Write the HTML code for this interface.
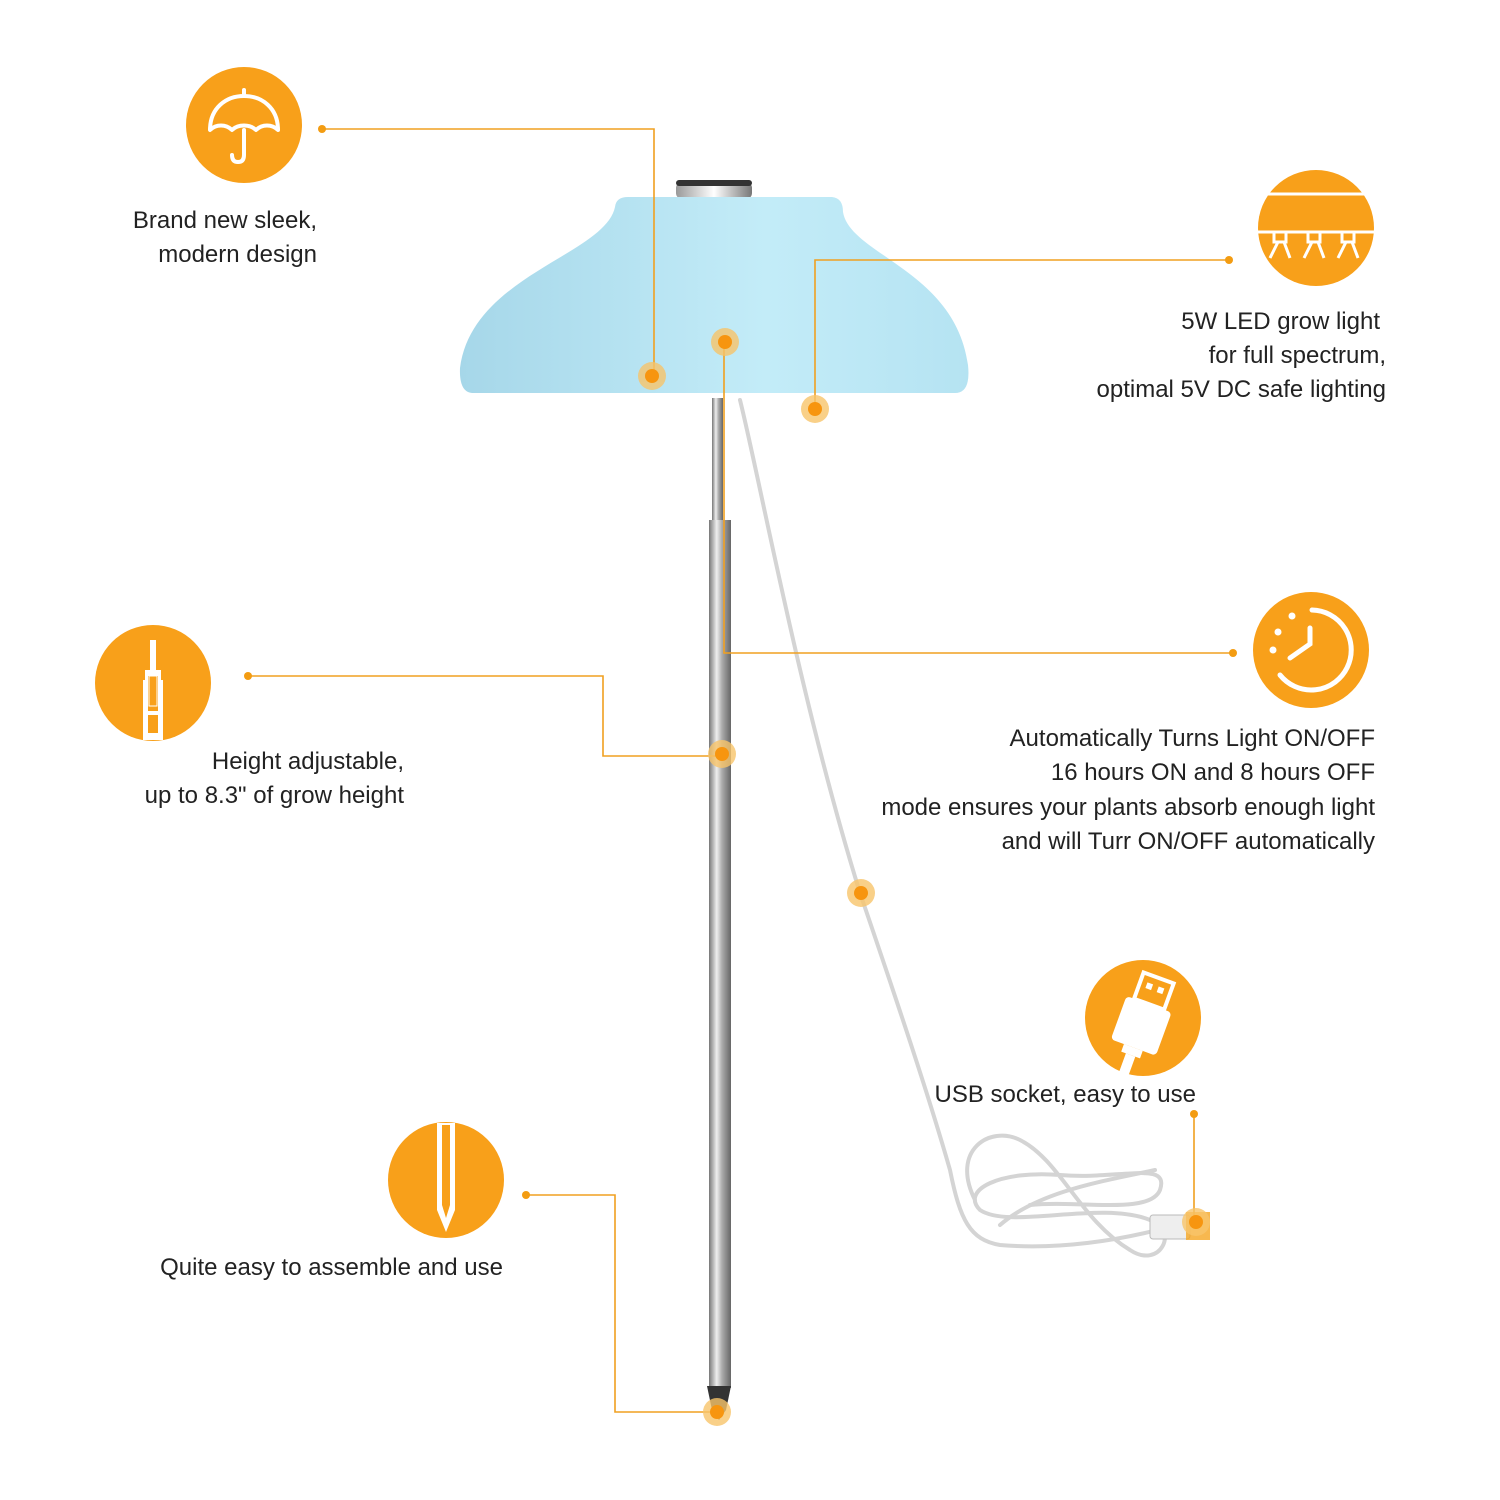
<!DOCTYPE html>
<html><head><meta charset="utf-8"><style>
html,body{margin:0;padding:0;background:#fff;}
svg{display:block;}
text{font-family:"Liberation Sans",Arial,sans-serif;font-size:24px;fill:#222;}
</style></head><body>
<svg width="1500" height="1500" viewBox="0 0 1500 1500" xmlns="http://www.w3.org/2000/svg">
<defs>
<linearGradient id="shade" x1="0" x2="1" y1="0" y2="0">
<stop offset="0" stop-color="#a6d7e9"/><stop offset="0.6" stop-color="#c3ecf8"/><stop offset="1" stop-color="#b5e3f2"/>
</linearGradient>
<linearGradient id="pole" x1="0" x2="1">
<stop offset="0" stop-color="#777"/><stop offset="0.35" stop-color="#eee"/><stop offset="0.6" stop-color="#aaa"/><stop offset="1" stop-color="#666"/>
</linearGradient>
<linearGradient id="cap" x1="0" x2="1">
<stop offset="0" stop-color="#999"/><stop offset="0.5" stop-color="#fff"/><stop offset="1" stop-color="#777"/>
</linearGradient>
</defs>

<g fill="none" stroke="#d4d4d4" stroke-width="4" stroke-linecap="round">
<path d="M740,400 C760,480 800,700 860,893 C900,1010 930,1100 950,1170 C960,1220 970,1240 1000,1245 C1060,1250 1120,1240 1165,1228"/>
<path d="M975,1200 C950,1150 990,1125 1020,1140 C1060,1160 1080,1220 1130,1250 C1160,1270 1180,1230 1150,1220 C1100,1200 1010,1230 980,1210 C960,1190 1000,1170 1060,1175 C1120,1180 1170,1160 1160,1190 C1150,1215 1080,1200 1030,1205"/>
<path d="M1000,1225 C1040,1190 1110,1180 1155,1170"/>
</g>
<g stroke="#bbb" stroke-width="1" fill="#eee"><rect x="1150" y="1215" width="40" height="24" rx="3"/></g>
<rect x="1186" y="1212" width="24" height="28" fill="#f5a623" opacity="0.8"/>

<rect x="712" y="398" width="11" height="125" fill="url(#pole)"/>
<rect x="709" y="520" width="22" height="868" fill="url(#pole)"/>
<path d="M707,1386 L731,1386 L726,1410 L719,1420 L712,1410 Z" fill="#333"/>

<rect x="676" y="182" width="76" height="17" rx="6" fill="url(#cap)"/>
<rect x="676" y="180" width="76" height="6" rx="3" fill="#333"/>
<path d="M615,207 Q616,197 628,197 L832,197 Q843,198 843,212 C850,255 955,270 968,365 Q971,393 955,393 L472,393 Q459,392 460,368 C472,275 605,255 615,207 Z" fill="url(#shade)"/>

<g fill="none" stroke="#f0a020" stroke-width="1.6">
<polyline points="322,129 654,129 654,376"/>
<polyline points="1229,260 815,260 815,409"/>
<polyline points="1233,653 724,653 724,342"/>
<polyline points="248,676 603,676 603,756 722,756"/>
<polyline points="526,1195 615,1195 615,1412 717,1412"/>
<polyline points="1194,1114 1194,1220"/>
</g>
<g fill="#f39c12">
<circle cx="322" cy="129" r="4"/><circle cx="1229" cy="260" r="4"/><circle cx="1233" cy="653" r="4"/>
<circle cx="248" cy="676" r="4"/><circle cx="526" cy="1195" r="4"/><circle cx="1194" cy="1114" r="4"/>
</g>
<g>
<g fill="#f7c46a" opacity="0.8">
<circle cx="652" cy="376" r="14"/><circle cx="725" cy="342" r="14"/><circle cx="815" cy="409" r="14"/>
<circle cx="722" cy="754" r="14"/><circle cx="861" cy="893" r="14"/><circle cx="717" cy="1412" r="14"/><circle cx="1196" cy="1222" r="14"/>
</g>
<g fill="#f7950f">
<circle cx="652" cy="376" r="7"/><circle cx="725" cy="342" r="7"/><circle cx="815" cy="409" r="7"/>
<circle cx="722" cy="754" r="7"/><circle cx="861" cy="893" r="7"/><circle cx="717" cy="1412" r="7"/><circle cx="1196" cy="1222" r="7"/>
</g>
</g>

<g fill="#f8a01a">
<circle cx="244" cy="125" r="58"/><circle cx="1316" cy="228" r="58"/><circle cx="1311" cy="650" r="58"/>
<circle cx="153" cy="683" r="58"/><circle cx="446" cy="1180" r="58"/><circle cx="1143" cy="1018" r="58"/>
</g>
<g fill="none" stroke="#fff" stroke-width="4" stroke-linecap="round" stroke-linejoin="round">
<path d="M244,90 L244,96"/>
<path d="M210,130 C210,108 226,96 244,96 C262,96 278,108 278,130 C272,124 262,124 256,130 C250,124 238,124 232,130 C226,124 216,124 210,130 Z"/>
<path d="M244,130 L244,155 Q244,162 238,162 Q232,162 232,155"/>
</g>
<g fill="none" stroke="#fff" stroke-width="3">
<line x1="1265" y1="194" x2="1367" y2="194"/>
<line x1="1258" y1="232" x2="1374" y2="232"/>
<path d="M1274,232 v10 h12 v-10 M1278,242 l-8,16 M1284,242 l6,16"/>
<path d="M1308,232 v10 h12 v-10 M1312,242 l-8,16 M1318,242 l6,16"/>
<path d="M1342,232 v10 h12 v-10 M1346,242 l-8,16 M1352,242 l6,16"/>
</g>
<g fill="#fff">
<rect x="150" y="640" width="6" height="30"/>
<rect x="145" y="670" width="16" height="10"/>
<rect x="143" y="680" width="20" height="60"/>
</g>
<rect x="148" y="676" width="10" height="35" fill="#f8a01a"/>
<rect x="149" y="676" width="8" height="30" fill="none" stroke="#fff" stroke-width="1"/>
<rect x="148" y="715" width="10" height="18" fill="#f8a01a"/>
<g fill="none" stroke="#fff" stroke-width="5" stroke-linecap="round">
<path d="M1312,610 A40,40 0 1 1 1280,675"/>
<path d="M1310,628 L1310,644 L1290,658"/>
</g>
<g fill="#fff"><circle cx="1292" cy="616" r="3.5"/><circle cx="1278" cy="632" r="3.5"/><circle cx="1273" cy="650" r="3.5"/></g>
<path d="M437,1123 L437,1210 L446,1232 L455,1210 L455,1123 Z" fill="#fff"/>
<path d="M442,1125 L442,1205 L446,1218 L450,1205 L450,1125 Z" fill="#f8a01a"/>
<g transform="rotate(20 1143 1018)">
<rect x="1128" y="975" width="32" height="28" fill="none" stroke="#fff" stroke-width="4"/>
<rect x="1135" y="983" width="6" height="6" fill="#fff"/><rect x="1147" y="983" width="6" height="6" fill="#fff"/>
<rect x="1120" y="1003" width="48" height="46" rx="4" fill="#fff"/>
<rect x="1134" y="1049" width="20" height="8" fill="#fff"/>
<rect x="1139" y="1057" width="10" height="25" fill="#fff"/>
</g>

<text x="317" y="228" text-anchor="end">Brand new sleek,</text>
<text x="317" y="262" text-anchor="end">modern design</text>
<text x="1380" y="329" text-anchor="end">5W LED grow light</text>
<text x="1386" y="363" text-anchor="end">for full spectrum,</text>
<text x="1386" y="397" text-anchor="end">optimal 5V DC safe lighting</text>
<text x="404" y="769" text-anchor="end">Height adjustable,</text>
<text x="404" y="803" text-anchor="end">up to 8.3" of grow height</text>
<text x="1375" y="746" text-anchor="end">Automatically Turns Light ON/OFF</text>
<text x="1375" y="780" text-anchor="end">16 hours ON and 8 hours OFF</text>
<text x="1375" y="815" text-anchor="end">mode ensures your plants absorb enough light</text>
<text x="1375" y="849" text-anchor="end">and will Turr ON/OFF automatically</text>
<text x="1196" y="1102" text-anchor="end">USB socket, easy to use</text>
<text x="503" y="1275" text-anchor="end">Quite easy to assemble and use</text>
</svg>
</body></html>
